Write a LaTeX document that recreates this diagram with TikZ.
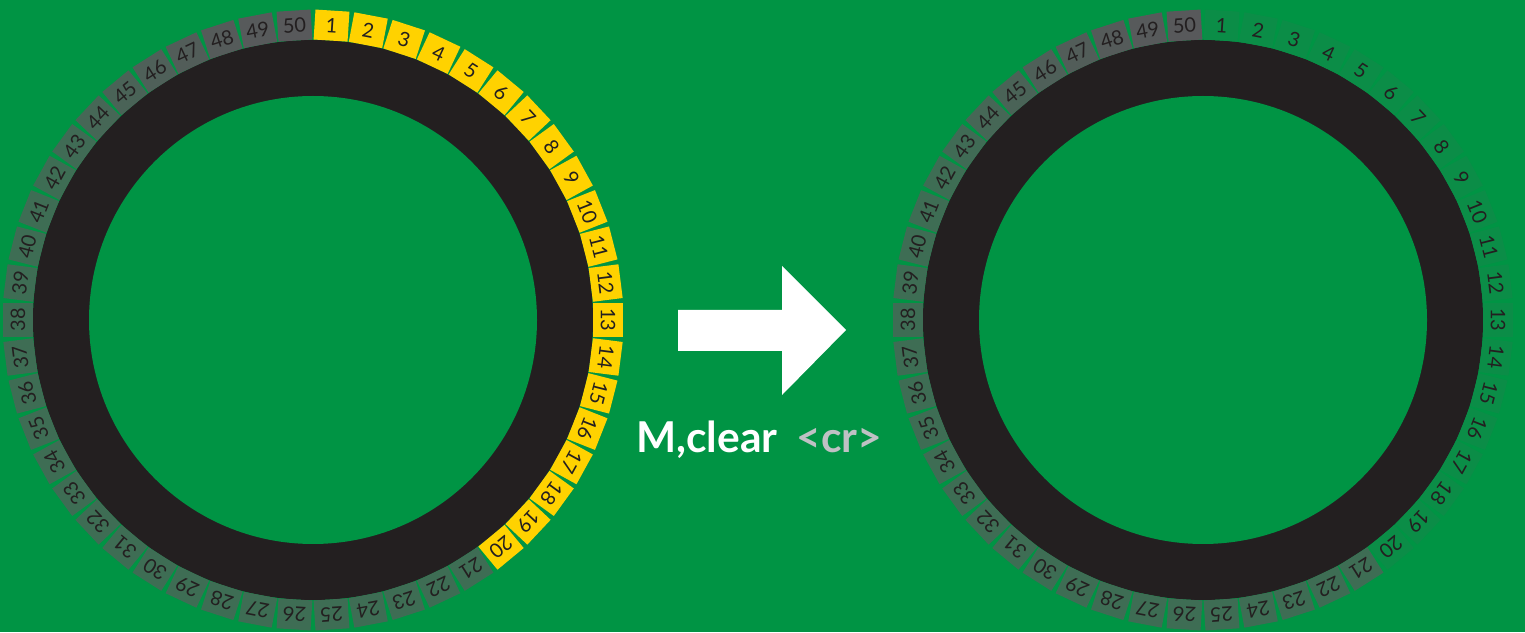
\documentclass[tikz,border=0pt]{standalone}
\usepackage{fontspec}
\setmainfont{Lato}
\definecolor{bg}{HTML}{009444}
\definecolor{ringblack}{HTML}{231F20}
\definecolor{ledyellow}{HTML}{FFD200}
\definecolor{cellgray}{HTML}{58595B}
\definecolor{greengray}{HTML}{3E6D54}
\definecolor{crgray}{HTML}{BFC1C4}
\colorlet{faint}{cellgray!12!bg}
\tikzset{
  cell/.style={minimum width=34pt, minimum height=30pt, inner sep=0pt,
    text=ringblack, font=\fontsize{20}{20}\selectfont},
}
\begin{document}
\begin{tikzpicture}[x=1pt,y=1pt]
\fill[bg] (0,0) rectangle (1525,632);
\useasboundingbox (0,0) rectangle (1525,632);
\foreach \cx/\side/\onc in {313/L/ledyellow, 1203/R/faint} {
  \coordinate (c\side) at (\cx,312);
  \fill[ringblack] (c\side) circle (280);
  \fill[bg] (c\side) circle (224);
  \foreach \k in {1,...,50} {
    \pgfmathsetmacro\ang{90-(\k-0.5)*7.2}
    \pgfmathsetmacro\rot{\ang-90}
    \pgfmathtruncatemacro\pct{max(0,min(100,(sin(\ang)-0.55)/0.45*100))}
    \ifnum\k<21
      \colorlet{tmpc}{\onc}
    \else
      \colorlet{tmpc}{cellgray!\pct!greengray}
    \fi
    \path (c\side) ++(\ang:295) node[cell, fill=tmpc, rotate=\rot] (\side\k) {\k};
  }
}
\fill[white] (678,322) -- (782,322) -- (782,366) -- (846,302) -- (782,237) -- (782,281) -- (678,281) -- cycle;
\node[anchor=base west, inner sep=0pt, text=white, font=\bfseries\fontsize{42.5}{42.5}\selectfont] (cmd) at (636,179) {M,clear\hspace{0.45em}\textcolor{crgray}{<cr>}};
\end{tikzpicture}
\end{document}
